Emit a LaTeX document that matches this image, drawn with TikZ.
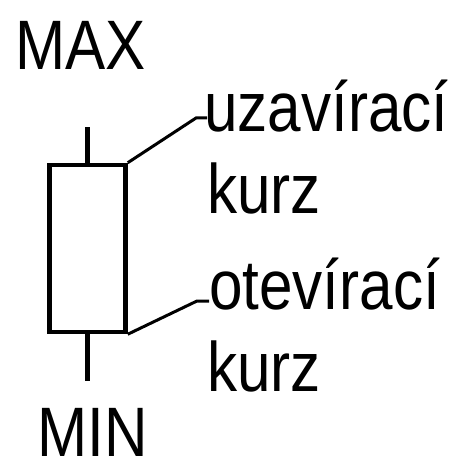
\documentclass[tikz,border=0pt]{standalone}
\usepackage{fontspec}
\setmainfont{Liberation Sans}
\usetikzlibrary{positioning}
\begin{document}
\begin{tikzpicture}[x=1pt,y=-1pt,
  lbl/.style={anchor=base west,inner sep=0pt,xscale=0.86,font=\fontsize{70}{84}\selectfont},
  leader/.style={line width=3pt}]
  % pixel grid: 462 x 462, y grows downwards
  \useasboundingbox (0,0) rectangle (462,462);
  % candle body and wicks
  \node[draw,line width=4.5pt,minimum width=76pt,minimum height=167pt,inner sep=0pt] (body) at (87.5,248.5) {};
  \coordinate (high) at (87.5,127);
  \coordinate (low) at (87.5,381);
  \draw[line width=4.5pt] (body.north) -- (high);
  \draw[line width=4.5pt] (body.south) -- (low);
  % extremes
  \node[lbl] (max) at (15,70) {MAX};
  \node[lbl] (min) at (37,456) {MIN};
  % open and close labels
  \node[lbl] (close) at (204,132) {uzavírací};
  \node[lbl] (closeb) at (207,213) {kurz};
  \node[lbl] (open) at (209,309) {otevírací};
  \node[lbl] (openb) at (207,391) {kurz};
  \draw[leader] (body.north east) -- ([xshift=-8pt,yshift=14pt]close.base west) -- ([xshift=3pt,yshift=14pt]close.base west);
  \draw[leader] (body.south east) -- ([xshift=-12pt,yshift=8pt]open.base west) -- ([xshift=0pt,yshift=8pt]open.base west);
\end{tikzpicture}
\end{document}
